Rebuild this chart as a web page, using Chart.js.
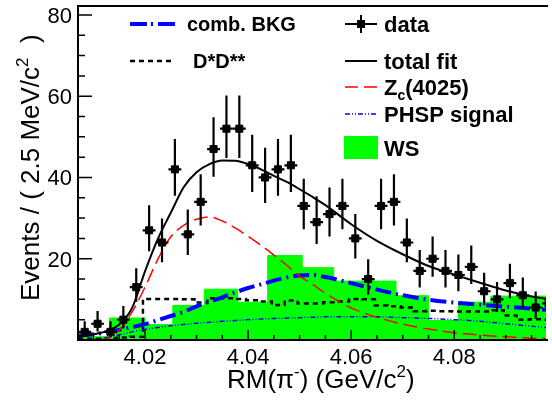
<!DOCTYPE html>
<html><head><meta charset="utf-8">
<script src="https://cdn.jsdelivr.net/npm/chart.js@4/dist/chart.umd.min.js"></script>
<style>html,body{margin:0;padding:0;background:#fff;overflow:hidden}</style>
</head><body>
<canvas id="c" width="552" height="405"></canvas>
<script>
// ---- data ----
const dataX = [4.0083,4.0108,4.0133,4.0158,4.0183,4.0208,4.0233,4.0258,4.0283,4.0308,4.0333,4.0358,4.0383,4.0408,4.0433,4.0458,4.0483,4.0508,4.0533,4.0558,4.0583,4.0608,4.0633,4.0658,4.0683,4.0708,4.0733,4.0758,4.0783,4.0808,4.0833,4.0858,4.0883,4.0908,4.0933,4.0958,4.0983];
const dataCounts = [2,4,2,5,13,27,24,42,26,34,47,52,52,43,40,42,43,33,29,31,33,25,15,33,34,24,17,20,17,16,18,12,10,14,11,8,9];
const dataErrLow = [1.29,1.91,1.29,2.16,3.58,5.17,4.86,6.47,5.07,5.82,6.84,7.19,7.19,6.55,6.31,6.47,6.55,5.73,5.36,5.55,5.73,4.97,3.87,5.73,5.82,4.86,4.11,4.44,4.11,3.99,4.23,3.43,3.11,3.73,3.27,2.77,2.94];
const dataErrHigh = [2.64,3.16,2.64,3.38,4.66,6.18,5.89,7.46,6.09,6.79,7.83,8.18,8.18,7.54,7.30,7.46,7.54,6.71,6.36,6.54,6.71,5.99,4.90,6.71,6.79,5.89,5.14,5.47,5.14,5.02,5.25,4.53,4.26,4.78,4.40,3.96,4.11];

const curveX = [4.0070,4.0100,4.0125,4.0150,4.0175,4.0200,4.0225,4.0250,4.0275,4.0300,4.0325,4.0350,4.0375,4.0400,4.0425,4.0450,4.0475,4.0500,4.0525,4.0550,4.0600,4.0650,4.0700,4.0750,4.0800,4.0850,4.0900,4.0950,4.0990];
const totalFit = [0.8,1.4,2.2,3.8,7.9,16.9,24.9,31.3,37.6,41.3,43.3,44.2,44.1,43.3,42.0,40.4,38.9,37.1,35.2,33.2,28.5,24.4,21.1,18.2,16.1,14.1,12.2,10.7,9.9];
const zcSignal = [0,0,0.3,2.4,6.9,13.0,19.9,25.4,28.2,29.7,30.3,29.3,27.6,25.5,23.3,20.9,18.4,15.7,13.7,11.5,7.9,5.6,3.9,2.7,1.8,1.2,0.8,0.45,0.3];
const combBkg = [1.1,1.4,1.9,2.5,3.2,3.9,4.9,5.9,6.9,8.3,9.4,10.5,11.7,12.8,13.7,14.6,15.4,15.9,16.0,15.5,14.0,12.4,11.0,9.9,9.2,8.7,8.2,7.7,7.3];
const phspSignal = [0,0.1,0.6,1.3,2.0,2.6,3.1,3.5,3.8,4.1,4.35,4.6,4.8,5.0,5.15,5.3,5.4,5.5,5.6,5.7,5.7,5.7,5.5,5.3,5.0,4.6,4.0,3.4,2.9];

const dsdEdges = [4.0070,4.0096,4.0121,4.0146,4.0171,4.0196,4.0221,4.0246,4.0271,4.0296,4.0321,4.0346,4.0371,4.0396,4.0421,4.0446,4.0471,4.0496,4.0521,4.0546,4.0571,4.0596,4.0621,4.0646,4.0671,4.0696,4.0721,4.0746,4.0771,4.0796,4.0821,4.0846,4.0871,4.0896,4.0921,4.0946,4.0971,4.0996];
const dsdValues = [0.3,0.3,0.4,0.6,0.8,10.1,10.1,10.1,10.0,9.2,10.3,10.3,10.1,9.8,9.5,8.6,9.7,9.0,9.0,9.3,9.5,10.1,10.0,8.5,8.3,8.0,7.1,7.2,7.1,7.0,7.0,7.0,7.3,6.0,5.0,5.1,5.0,5.0];

const wsEdges = [4.0070,4.0131,4.0200,4.0254,4.0315,4.0380,4.0438,4.0505,4.0566,4.0687,4.0750,4.0808,4.0871,4.0995];
const wsValues = [0.8,5.4,3.8,8.5,12.5,9.3,20.8,17.8,14.5,10.9,4.8,9.3,10.8,10.8];

const xMajorTicks = [4.02,4.04,4.06,4.08];
const xTickLabels = ['4.02','4.04','4.06','4.08'];
const xMinorTicks = [4.010,4.015,4.025,4.030,4.035,4.045,4.050,4.055,4.065,4.070,4.075,4.085,4.090,4.095];
const yMajorTicks = [20,40,60,80];
const yTickLabels = ['20','40','60','80'];
const yMinorTicks = [5,10,15,25,30,35,45,50,55,65,70,75];

const FONT = '"Liberation Sans", Arial, Helvetica, sans-serif';

function pts(xs, ys){ return xs.map((x,i)=>({x:x, y:ys[i]})); }

function rich(ctx, parts, x, y){
  let cx = x;
  for (const p of parts){
    ctx.font = (p.bold ? 'bold ' : '') + p.size + 'px ' + FONT;
    ctx.fillText(p.t, cx, y + (p.dy||0));
    cx += ctx.measureText(p.t).width;
  }
  return cx;
}

const decor = {
  id: 'decor',
  afterDatasetsDraw(chart){
    const ctx = chart.ctx, xs = chart.scales.x, ys = chart.scales.y, ca = chart.chartArea;
    ctx.save();
    ctx.beginPath(); ctx.rect(ca.left, ca.top, ca.right-ca.left, ca.bottom-ca.top); ctx.clip();
    ctx.strokeStyle = '#000'; ctx.lineWidth = 2.2;
    for (let i=0;i<dataX.length;i++){
      const px = xs.getPixelForValue(dataX[i]);
      const y0 = ys.getPixelForValue(dataCounts[i]);
      const yl = ys.getPixelForValue(dataCounts[i]-dataErrLow[i]);
      const yh = ys.getPixelForValue(dataCounts[i]+dataErrHigh[i]);
      const xl = xs.getPixelForValue(dataX[i]-0.00125);
      const xh = xs.getPixelForValue(dataX[i]+0.00125);
      ctx.beginPath();
      ctx.moveTo(px, yl); ctx.lineTo(px, yh);
      ctx.moveTo(xl, y0); ctx.lineTo(xh, y0);
      ctx.stroke();
    }
    ctx.restore();
  },
  afterDraw(chart){
    const ctx = chart.ctx, xs = chart.scales.x, ys = chart.scales.y, ca = chart.chartArea;
    ctx.save();
    ctx.strokeStyle = '#000'; ctx.fillStyle = '#000'; ctx.lineWidth = 2;
    ctx.beginPath();
    ctx.moveTo(ca.left, ca.top); ctx.lineTo(ca.right+2, ca.top);
    ctx.moveTo(ca.left, ca.top-1); ctx.lineTo(ca.left, ca.bottom+1);
    ctx.moveTo(ca.left-1, ca.bottom); ctx.lineTo(ca.right+2, ca.bottom);
    ctx.stroke();
    ctx.lineWidth = 1.5;
    ctx.beginPath();
    xMajorTicks.forEach(v=>{ const p = xs.getPixelForValue(v); ctx.moveTo(p, ca.bottom); ctx.lineTo(p, ca.bottom-10); });
    xMinorTicks.forEach(v=>{ const p = xs.getPixelForValue(v); ctx.moveTo(p, ca.bottom); ctx.lineTo(p, ca.bottom-5); });
    yMajorTicks.forEach(v=>{ const p = ys.getPixelForValue(v); ctx.moveTo(ca.left, p); ctx.lineTo(ca.left+14, p); });
    yMinorTicks.forEach(v=>{ const p = ys.getPixelForValue(v); ctx.moveTo(ca.left, p); ctx.lineTo(ca.left+7, p); });
    ctx.stroke();
    ctx.font = '22px ' + FONT;
    ctx.textBaseline = 'alphabetic';
    ctx.textAlign = 'center';
    xMajorTicks.forEach((v,i)=>{ ctx.fillText(xTickLabels[i], xs.getPixelForValue(v), 364); });
    ctx.textAlign = 'right';
    yMajorTicks.forEach((v,i)=>{ ctx.fillText(yTickLabels[i], 72, ys.getPixelForValue(v)+8); });
    ctx.textAlign = 'left';
    rich(ctx, [
      {t:'RM(\u03c0', size:26},
      {t:'-', size:17, dy:-11},
      {t:') (GeV/c', size:26},
      {t:'2', size:17, dy:-11},
      {t:')', size:26}
    ], 227, 388);
    ctx.save();
    ctx.translate(39, 301);
    ctx.rotate(-Math.PI/2);
    rich(ctx, [
      {t:'Events / ( 2.5 MeV/c', size:26},
      {t:'2', size:17, dy:-11},
      {t:'  )', size:26}
    ], 0, 0);
    ctx.restore();

    // ---- legend ----
    ctx.strokeStyle = '#0000ff'; ctx.lineWidth = 4; ctx.setLineDash([17,4,2,5]);
    ctx.beginPath(); ctx.moveTo(130, 24); ctx.lineTo(177, 24); ctx.stroke();
    ctx.strokeStyle = '#000'; ctx.lineWidth = 2.5; ctx.setLineDash([5,4]);
    ctx.beginPath(); ctx.moveTo(130, 61); ctx.lineTo(171, 61); ctx.stroke();
    ctx.setLineDash([]);
    ctx.fillStyle = '#000';
    rich(ctx, [{t:'comb. BKG', size:20, bold:true}], 187, 31);
    rich(ctx, [{t:'D*D**', size:20, bold:true}], 193, 68);
    ctx.strokeStyle = '#000'; ctx.lineWidth = 2;
    ctx.beginPath(); ctx.moveTo(345, 24); ctx.lineTo(377, 24); ctx.moveTo(361, 15); ctx.lineTo(361, 33); ctx.stroke();
    ctx.fillRect(357, 20, 8, 8);
    ctx.beginPath(); ctx.moveTo(345, 61); ctx.lineTo(377, 61); ctx.stroke();
    ctx.strokeStyle = '#ff0000'; ctx.lineWidth = 1.5; ctx.setLineDash([13,6]);
    ctx.beginPath(); ctx.moveTo(345, 87); ctx.lineTo(377, 87); ctx.stroke();
    ctx.strokeStyle = '#0000ff'; ctx.lineWidth = 1.5; ctx.setLineDash([5,2,1,2,1,2]);
    ctx.beginPath(); ctx.moveTo(345, 114); ctx.lineTo(377, 114); ctx.stroke();
    ctx.setLineDash([]);
    ctx.fillStyle = '#00ff00';
    ctx.fillRect(344, 136, 34, 23);
    ctx.fillStyle = '#000';
    rich(ctx, [{t:'data', size:22, bold:true}], 384, 32);
    rich(ctx, [{t:'total fit', size:22, bold:true}], 384, 69);
    rich(ctx, [{t:'Z', size:22, bold:true},{t:'c', size:14, bold:true, dy:5},{t:'(4025)', size:22, bold:true}], 384, 95);
    rich(ctx, [{t:'PHSP signal', size:22, bold:true}], 384, 122);
    rich(ctx, [{t:'WS', size:22, bold:true}], 384, 156);
    ctx.restore();
  }
};

new Chart(document.getElementById('c'), {
  type: 'line',
  data: { datasets: [
    { label:'data', data: pts(dataX, dataCounts), showLine:false, pointStyle:'rect', pointRadius:5, pointBorderWidth:1,
      pointBackgroundColor:'#000', pointBorderColor:'#000', order:0 },
    { label:'total fit', data: pts(curveX, totalFit), borderColor:'#000', borderWidth:2, pointRadius:0,
      cubicInterpolationMode:'monotone', fill:false, order:1 },
    { label:'Zc(4025)', data: pts(curveX, zcSignal), borderColor:'#ff0000', borderWidth:1.5, borderDash:[14,6], pointRadius:0,
      cubicInterpolationMode:'monotone', fill:false, order:2 },
    { label:'comb. BKG', data: pts(curveX, combBkg), borderColor:'#0000ff', borderWidth:4, borderDash:[16,5,2,5], pointRadius:0,
      cubicInterpolationMode:'monotone', fill:false, order:3 },
    { label:'PHSP signal', data: pts(curveX, phspSignal), borderColor:'#0000ff', borderWidth:1.5, borderDash:[5,2,1,2,1,2], pointRadius:0,
      cubicInterpolationMode:'monotone', fill:false, order:4 },
    { label:'D*D**', data: pts(dsdEdges, dsdValues), stepped:true, borderColor:'#000', borderWidth:2.5, borderDash:[5,4], pointRadius:0,
      fill:false, order:5 },
    { label:'WS', data: pts(wsEdges, wsValues), stepped:true, borderColor:'#00ff00', borderWidth:1, backgroundColor:'#00ff00', pointRadius:0,
      fill:'origin', order:6 }
  ]},
  options: {
    responsive:false, animation:false, events:[],
    layout:{ padding:{ left:78, top:1, right:0, bottom:65 } },
    plugins:{ legend:{display:false}, tooltip:{enabled:false}, title:{display:false} },
    scales:{
      x:{ type:'linear', min:4.007, max:4.0978, display:false },
      y:{ type:'linear', min:0, max:82.2, display:false }
    }
  },
  plugins:[decor]
});
</script>
</body></html>
